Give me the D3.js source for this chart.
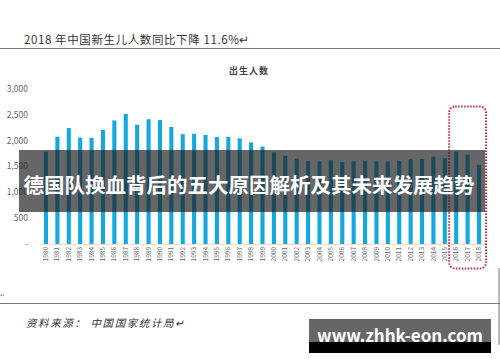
<!DOCTYPE html>
<html>
<head>
<meta charset="utf-8">
<script src="https://cdn.jsdelivr.net/npm/d3@7"></script>
<style>
  body { margin: 0; background: #fff; }
  text { font-family: "Noto Sans CJK SC", "Noto Sans", sans-serif; }
</style>
</head>
<body>
<div id="chart-wrapper"></div>
<script>
/////////////////// Data ////////////////////
const years = d3.range(1980, 2019).map(String)
const births = [1787, 2069, 2237, 2052, 2050, 2202, 2384, 2508, 2300, 2407,
                2391, 2258, 2119, 2126, 2104, 2063, 2067, 2038, 1960, 1880,
                1771, 1702, 1647, 1599, 1593, 1617, 1585, 1595, 1608, 1591,
                1592, 1604, 1635, 1640, 1687, 1655, 1786, 1723, 1523]
const yTicks = [0, 500, 1000, 1500, 2000, 2500, 3000]
const highlightYears = ['2016', '2018']

/////////////////// Constants ////////////////////
const width = 500
const height = 362
const barColor = "#15a8e0"

const svg = d3.select("#chart-wrapper")
  .append("svg")
    .attr("width", width)
    .attr("height", height)

/// Scales ///
const xScale = d3.scaleBand()
  .domain(years)
  .range([40.3, 484.7])
  .paddingInner(0.64)
  .paddingOuter(0.32)
const yScale = d3.scaleLinear()
  .domain([0, 3000])
  .range([244, 88.5])

/// page decoration ///
svg.append("text")
  .attr("x", 24).attr("y", 44)
  .attr("font-size", 11.5).attr("fill", "#333")
  .attr("letter-spacing", 0.6)
  .text("2018 年中国新生儿人数同比下降 11.6%↵")
svg.append("line")
  .attr("x1", 0).attr("x2", width).attr("y1", 48.5).attr("y2", 48.5)
  .attr("stroke", "#777").attr("stroke-width", 1.2)

svg.append("text")
  .attr("x", 249).attr("y", 74)
  .attr("text-anchor", "middle")
  .attr("font-size", 9).attr("font-weight", "bold").attr("fill", "#444")
  .attr("letter-spacing", 1)
  .text("出生人数")

/// Axes ///
const yAxis = g => g
  .attr("transform", `translate(31, 0)`)
  .call(d3.axisLeft(yScale).tickValues(yTicks).tickSize(0)
    .tickFormat(d => d === 0 ? "-" : d3.format(",")(d)))
  .call(g => g.select(".domain").remove())
  .call(g => g.selectAll("text").attr("fill", "#666").attr("font-size", 8.5))

const xAxis = g => g
  .attr("transform", `translate(0, ${yScale(0)})`)
  .call(d3.axisBottom(xScale).tickSize(0))
  .call(g => g.select(".domain").attr("stroke", "#f4dcc4"))
  .call(g => g.selectAll("text")
    .attr("transform", "rotate(-90)")
    .attr("text-anchor", "end")
    .attr("x", -3).attr("y", 0).attr("dy", "0.32em")
    .attr("fill", "#666").attr("font-size", 6.5))

svg.append("g").call(yAxis)

/// Bars ///
svg.append("g")
  .selectAll("rect")
  .data(births)
  .join("rect")
    .attr("x", (d, i) => xScale(years[i]))
    .attr("y", d => yScale(d))
    .attr("width", xScale.bandwidth())
    .attr("height", d => yScale(0) - yScale(d))
    .attr("fill", barColor)

svg.append("g").call(xAxis)

/// highlight box ///
const hx0 = xScale(highlightYears[0]) - 5
const hx1 = xScale(highlightYears[1]) + xScale.bandwidth() + 5
svg.append("rect")
  .attr("x", hx0).attr("y", 106.5)
  .attr("width", hx1 - hx0).attr("height", 162)
  .attr("rx", 6)
  .attr("fill", "none")
  .attr("stroke", "#c0283c").attr("stroke-width", 2)
  .attr("stroke-dasharray", "1.5 1.5")

/// lower frame ///
svg.append("text").attr("x", 0).attr("y", 297).attr("font-size", 6).attr("fill", "#888").text("↵")
svg.append("line")
  .attr("x1", 0).attr("x2", width).attr("y1", 303.5).attr("y2", 303.5)
  .attr("stroke", "#777").attr("stroke-width", 1.2)
svg.append("line")
  .attr("x1", 499).attr("x2", 499).attr("y1", 268).attr("y2", 345)
  .attr("stroke", "#777").attr("stroke-width", 1)
svg.append("text")
  .attr("x", 26).attr("y", 327)
  .attr("font-size", 10.5).attr("fill", "#333")
  .attr("font-style", "italic")
  .attr("letter-spacing", 1.6)
  .text("资料来源： 中国国家统计局↵")

/// watermark banners ///
svg.append("rect")
  .attr("x", 19).attr("y", 150).attr("width", 466).attr("height", 62)
  .attr("fill", "rgba(30,30,30,0.68)")
svg.append("text")
  .attr("x", 249).attr("y", 193)
  .attr("text-anchor", "middle")
  .attr("font-size", 20.5).attr("font-weight", "bold").attr("fill", "#fff")
  .text("德国队换血背后的五大原因解析及其未来发展趋势")

svg.append("rect")
  .attr("x", 309).attr("y", 319).attr("width", 182).attr("height", 24)
  .attr("fill", "#666")
svg.append("text")
  .attr("x", 400).attr("y", 342)
  .attr("text-anchor", "middle")
  .attr("font-size", 17).attr("font-weight", "bold").attr("fill", "#fff")
  .text("www.zhhk-eon.com")
svg.append("rect")
  .attr("x", 309).attr("y", 342).attr("width", 182).attr("height", 11)
  .attr("fill", "#000")
</script>
</body>
</html>
